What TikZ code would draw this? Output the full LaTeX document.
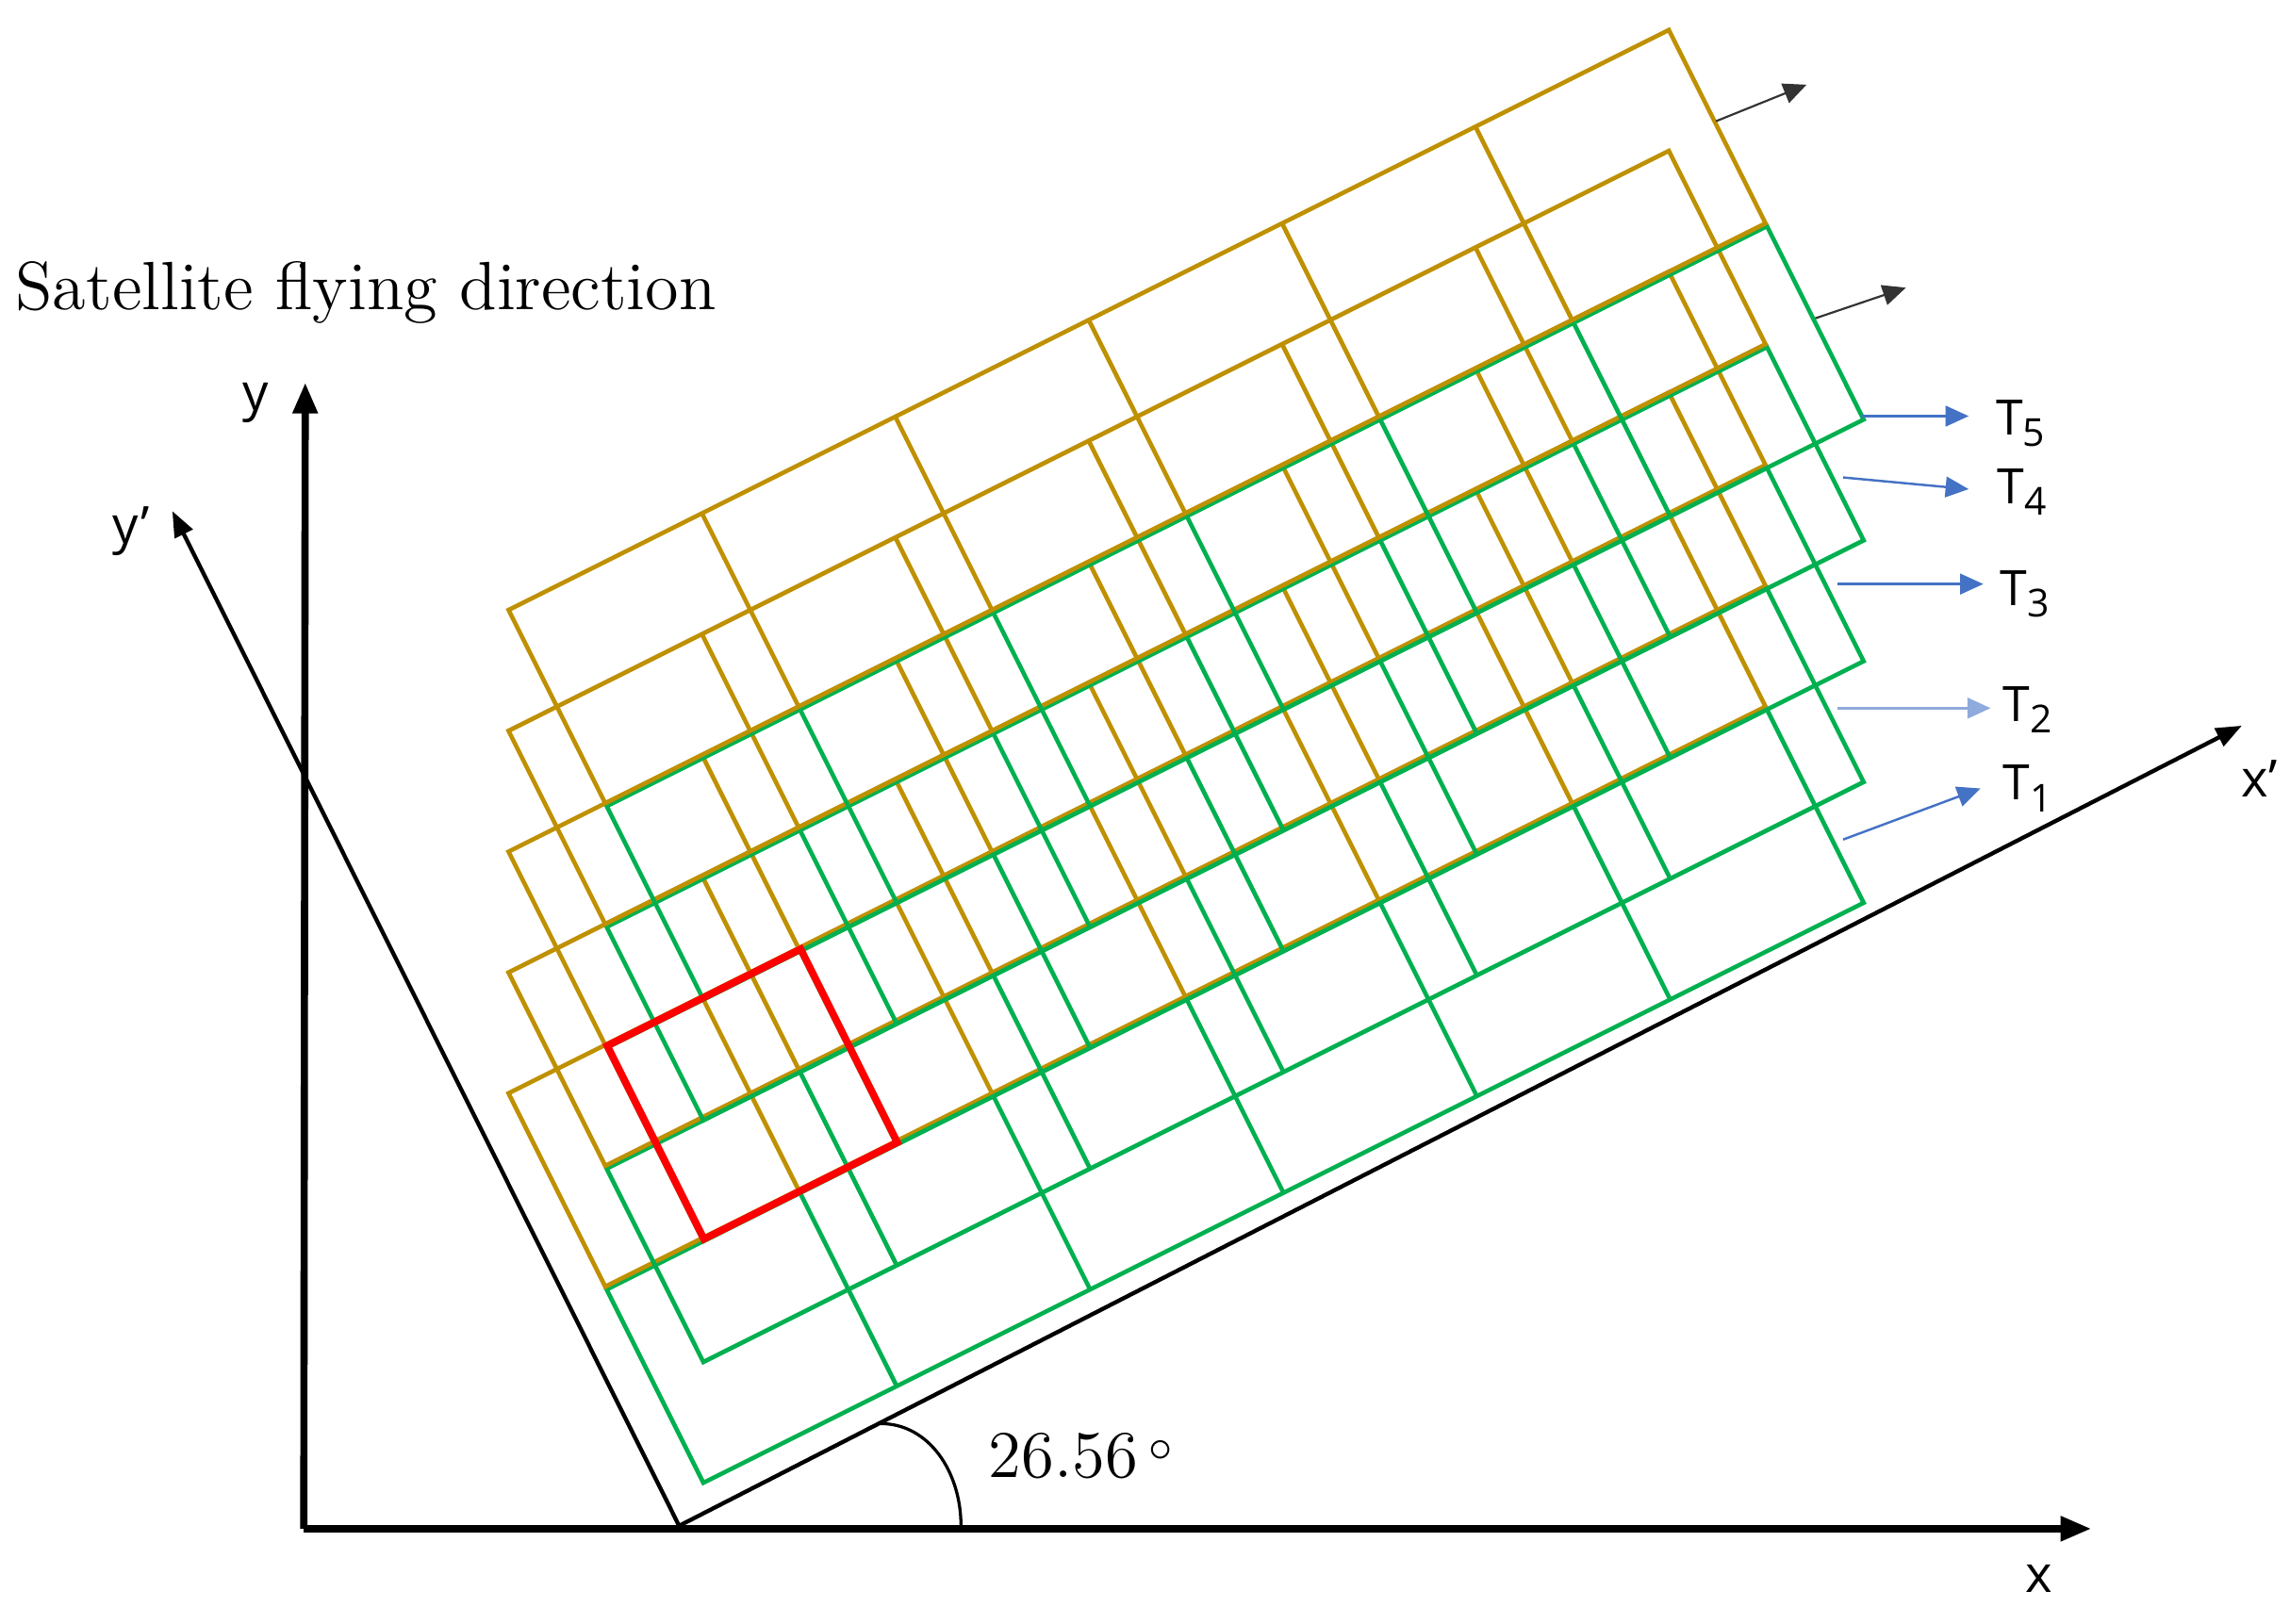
\documentclass[tikz,border=0pt]{standalone}
\usepackage{fontspec}
\newfontfamily\lblfont{Open Sans}
\usetikzlibrary{arrows.meta}
\definecolor{gold}{HTML}{BF9000}
\definecolor{grn}{HTML}{00B050}
\definecolor{blu}{HTML}{4472C4}
\definecolor{redc}{HTML}{FF0000}
\begin{document}
\begin{tikzpicture}[x=0.01cm,y=-0.01cm,
  goldline/.style={draw=gold, line width=0.85pt},
  greenline/.style={draw=grn, line width=0.85pt},
  redline/.style={draw=redc, line width=1.4pt, line join=miter},
  mainaxis/.style={draw=black, line width=1.4pt, -{Triangle[length=6pt,width=4.6pt]}},
  rotaxis/.style={draw=black, line width=0.8pt, -{Triangle[length=5pt,width=3.8pt]}},
  dirarrow/.style={draw=black!80, line width=0.4pt, -{Triangle[length=4.5pt,width=4pt]}},
  tarrow/.style={draw=blu, line width=0.45pt, -{Triangle[length=4.5pt,width=4pt]}},
  lbl/.style={font=\lblfont\fontsize{10}{12}\selectfont, inner sep=0pt},
  tlbl/.style={font=\lblfont\fontsize{9.5}{11}\selectfont, inner sep=0pt, anchor=west}]
\useasboundingbox (0,0) rectangle (1568,1112);
\coordinate (O) at (465,1045);
\coordinate (Oxy) at (208,1047);
\coordinate (xend) at (1432,1047);
\coordinate (yend) at (209,262);
\coordinate (xpend) at (1535,497);
\coordinate (ypend) at (118,350);
% main axes
\draw[mainaxis] (Oxy) -- (xend);
\draw[mainaxis] (Oxy) -- (yend);
% rotated axes
\draw[rotaxis] (O) -- (xpend);
\draw[rotaxis] (O) -- (ypend);
% angle arc
\coordinate (arcA) at (603,975);
\coordinate (arcB) at (658,1045);
\draw[line width=0.6pt] (arcA) .. controls (636,975) and (658,1008) .. (arcB);
% grids
\begin{scope}[shift={(O)}, x={(0.0089443cm,0.0044721cm)}, y={(-0.0044721cm,0.0089443cm)}]
\foreach \k in {0,...,4} {
  \pgfmathsetmacro\pa{28+37*\k}
  \pgfmathsetmacro\qa{20+74*\k}
  \draw[greenline] (\pa,\qa-1.1) -- ++(888,0) -- ++(0,148) -- ++(-888,0) -- cycle;
  \foreach \j in {1,...,5} \draw[greenline] (\pa+148*\j,\qa-1.1) -- ++(0,148);
  \draw[goldline] (\pa,\qa+149.1) -- ++(888,0) -- ++(0,148) -- ++(-888,0) -- cycle;
  \foreach \j in {1,...,5} \draw[goldline] (\pa+148*\j,\qa+149.1) -- ++(0,148);
}
\draw[redline] (103,168) -- (251,168) -- (251,316) -- (103,316) -- cycle;
\end{scope}
% direction arrows
\coordinate (d1a) at (1175,83);
\coordinate (d1b) at (1237,58);
\coordinate (d2a) at (1243,218);
\coordinate (d2b) at (1305,197);
\draw[dirarrow] (d1a) -- (d1b);
\draw[dirarrow] (d2a) -- (d2b);
% T labels
\node[tlbl] (T5) at (1366,290) {T\raisebox{-0.45ex}{\fontsize{7.5}{8}\selectfont 5}};
\node[tlbl] (T4) at (1367,337) {T\raisebox{-0.45ex}{\fontsize{7.5}{8}\selectfont 4}};
\node[tlbl] (T3) at (1369,407) {T\raisebox{-0.45ex}{\fontsize{7.5}{8}\selectfont 3}};
\node[tlbl] (T2) at (1371,486) {T\raisebox{-0.45ex}{\fontsize{7.5}{8}\selectfont 2}};
\node[tlbl] (T1) at (1371,540) {T\raisebox{-0.45ex}{\fontsize{7.5}{8}\selectfont 1}};
\coordinate (a5) at (1275,285); \coordinate (b5) at (1348,285);
\coordinate (a4) at (1262,327); \coordinate (b4) at (1348,335);
\coordinate (a3) at (1258,400); \coordinate (b3) at (1358,400);
\coordinate (a2) at (1258,485); \coordinate (b2) at (1363,485);
\coordinate (a1) at (1262,575); \coordinate (b1) at (1356,540);
\draw[tarrow] (a5) -- (b5);
\draw[tarrow] (a4) -- (b4);
\draw[tarrow] (a3) -- (b3);
\draw[tarrow, draw=blu!60] (a2) -- (b2);
\draw[tarrow] (a1) -- (b1);
% texts
\node[anchor=base west, inner sep=0pt, font=\fontsize{13.3}{15}\selectfont] (title) at (10,212) {Satellite flying direction};
\node[lbl] (ylab) at (175,276) {y};
\node[lbl] (yplab) at (90,364) {y’};
\node[lbl] (xplab) at (1547,533) {x’};
\node[lbl] (xlab) at (1396,1081) {x};
\node[inner sep=0pt, font=\fontsize{13}{15}\selectfont] (ang) at (740,997) {26.56\,\raisebox{0.55ex}{$\scriptstyle\circ$}};
\end{tikzpicture}
\end{document}
